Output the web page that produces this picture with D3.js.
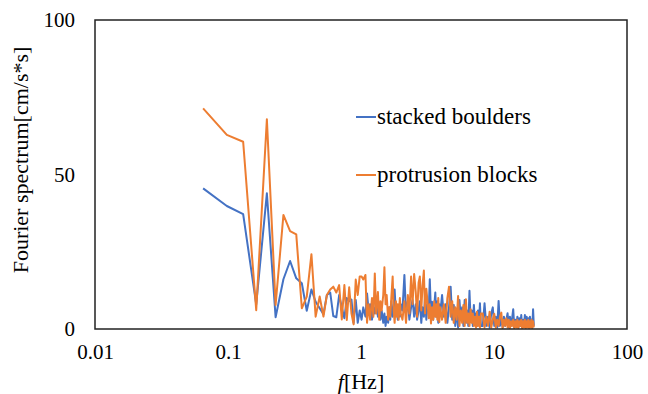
<!DOCTYPE html>
<html><head><meta charset="utf-8">
<script src="https://cdn.jsdelivr.net/npm/d3@7"></script>
<style>html,body{margin:0;padding:0;background:#fff}svg{display:block}</style>
</head><body><div id="chart"></div>
<script>
// Frequencies [Hz]
const freq = [
 0.065,0.098,0.130,0.163,0.196,0.228,0.261,0.293,0.326,0.359,0.391,0.424,0.456,0.489,0.522,0.554,0.587,0.619,0.652,0.685,0.717,0.750,0.782,0.815,0.848,0.880,0.913,0.945,0.978,
 1.01,1.04,1.08,1.11,1.14,1.17,1.21,1.24,1.27,1.30,1.34,1.37,1.40,1.43,1.47,1.50,1.53,1.56,1.60,1.63,1.66,1.69,1.73,1.76,1.79,1.83,1.86,1.89,1.92,1.96,1.99,
 2.05,2.12,2.18,2.25,2.31,2.38,2.44,2.51,2.58,2.64,2.71,2.77,2.84,2.90,2.97,3.03,3.10,3.16,3.23,3.29,3.36,3.42,3.49,3.55,3.62,3.68,3.75,3.81,3.88,3.94,
 4.07,4.20,4.33,4.46,4.59,4.72,4.85,4.98,5.11,5.24,5.37,5.50,5.63,5.76,5.89,6.02,6.15,6.28,6.41,6.54,6.67,6.80,6.93,7.06,7.19,7.32,7.45,7.58,7.71,7.84,7.97,
 8.23,8.49,8.75,9.01,9.27,9.53,9.79,10.05,10.31,10.57,10.83,11.09,11.35,11.61,11.87,12.13,12.39,12.65,12.91,13.17,13.43,13.69,13.95,14.21,14.47,14.73,14.99,15.25,15.51,15.77,16.03,16.29,16.55,16.81,17.07,17.33,17.59,17.85,18.11,18.37,18.63,18.89,19.15,19.41,19.67,19.93
];
// stacked boulders [cm/s*s]
const stackedBoulders = [
 45.5,39.8,37.2,8,43.9,3.8,16.1,22,16.4,14.8,5.9,12.8,8.8,6.7,4.8,11,11.8,4.2,3.8,11,7,3.5,10,9,9.5,2,9.4,2,6,
 3,7,4,11.5,6,8,3,7,5,9,4,8,3,6,2,5,1,4,2,7,3,9,4,6,12.8,5,7,3,6,4,8,
 6,17.5,5,9,3,7,9.4,4,8,3,6,9,2,7,4,10,3,8,6,16.1,5,8.8,3,7,11.8,4,9,2,8,5,
 11,4,8,2,7,13.7,3,7.8,1,6,0.5,9.4,3,7,1,9.4,2,6,1,12.4,3,6,1,7.8,2,5,1,6,2,8.3,1,
 1,8.3,1,4,0.5,5,7,1,4,0.5,9.1,1,3.5,0.5,4,1,3,5.1,0.5,4,1,3.5,6.4,0.5,3,1,4,0.5,3.5,1,4.5,0.5,3,1,4.5,0.5,4,1,3.5,0.5,4,1,3,0.5,6.4,1
];
// protrusion blocks [cm/s*s]
const protrusionBlocks = [
 71.4,62.8,60.6,6.1,67.9,7.8,36.9,31.7,30.6,6.7,10.5,24.2,4,10.5,4,11,12.8,13.7,11.8,14.2,3.1,14.2,2.9,13.5,5,1.5,16,11,17,
 17,16,17.5,2,8,3,10,4,18,5,12,3,9,6,11,20,8,11,3,7,4,10,17,6,2,9,4,8,3,10,5,
 3,9,2,11,5,17,8,17.8,12,4,15,17,6,14,18.9,5,13,9,3.5,8,1.8,7,3,9,4,8,3,10,2.3,7,
 3,8,2,10,13.7,4,9,2,7,3,10.7,1,6,2,7.8,1,9.6,2,5,1,6.4,2,5,1,4,0.5,5.6,1,4,0.5,5,
 5,0.5,4,1,5.6,0.5,3,4.9,0.5,3,1,4,5.3,0.3,3,1,3.5,0.5,3,0.3,2.5,1,3,0.3,2.5,0.5,3,0.3,2.5,1,3,0.3,2.5,0.5,3,0.3,2.5,0.5,3,0.3,2.5,0.5,3,0.3,2.5,0.5
];
const xTicks = [0.01, 0.1, 1, 10, 100];
const yTicks = [0, 50, 100];
const seriesNames = ["stacked boulders", "protrusion blocks"];
const seriesColors = ["#4472C4", "#ED7D31"];

const W = 648, H = 394;
const m = {left: 95, right: 21, top: 20, bottom: 65};
const font = "Liberation Serif";
const svg = d3.select("#chart").append("svg").attr("width", W).attr("height", H);
const x = d3.scaleLog().domain([0.01, 100]).range([m.left, W - m.right]);
const y = d3.scaleLinear().domain([0, 100]).range([H - m.bottom, m.top]);

const line = d3.line().x(d => x(d[0])).y(d => y(d[1]));
[stackedBoulders, protrusionBlocks].forEach((vals, i) => {
  svg.append("path")
    .datum(freq.map((f, j) => [f, vals[j]]))
    .attr("d", line)
    .attr("fill", "none")
    .attr("stroke", seriesColors[i])
    .attr("stroke-width", 2)
    .attr("stroke-linejoin", "round");
});

// frame
svg.append("rect")
  .attr("x", m.left).attr("y", m.top)
  .attr("width", W - m.left - m.right).attr("height", H - m.top - m.bottom)
  .attr("fill", "none").attr("stroke", "#222").attr("stroke-width", 1.5);

// axes
const xAxis = svg.append("g").attr("transform", `translate(0,${H - m.bottom})`)
  .call(d3.axisBottom(x).tickValues(xTicks).tickSize(0).tickPadding(15).tickFormat(d => String(d)));
const yAxis = svg.append("g").attr("transform", `translate(${m.left},0)`)
  .call(d3.axisLeft(y).tickValues(yTicks).tickSize(0).tickPadding(20).tickFormat(d3.format("d")));
[xAxis, yAxis].forEach(g => {
  g.attr("font-family", font).attr("font-size", 21);
  g.select(".domain").remove();
  g.selectAll("text").attr("fill", "#000");
});

// axis titles
svg.append("text")
  .attr("transform", "translate(28,160) rotate(-90)")
  .attr("text-anchor", "middle").attr("font-family", font).attr("font-size", 22)
  .text("Fourier spectrum[cm/s*s]");
const xt = svg.append("text")
  .attr("x", x(1)).attr("y", 389).attr("text-anchor", "middle")
  .attr("font-family", font).attr("font-size", 22);
xt.append("tspan").attr("font-style", "italic").text("f");
xt.append("tspan").text("[Hz]");

// legend
seriesNames.forEach((name, i) => {
  const ly = 117 + i * 58;
  svg.append("line").attr("x1", 356).attr("x2", 376).attr("y1", ly).attr("y2", ly)
    .attr("stroke", seriesColors[i]).attr("stroke-width", 2);
  svg.append("text").attr("x", 377).attr("y", ly + 7)
    .attr("font-family", font).attr("font-size", 23).text(name);
});
</script>
</body></html>
